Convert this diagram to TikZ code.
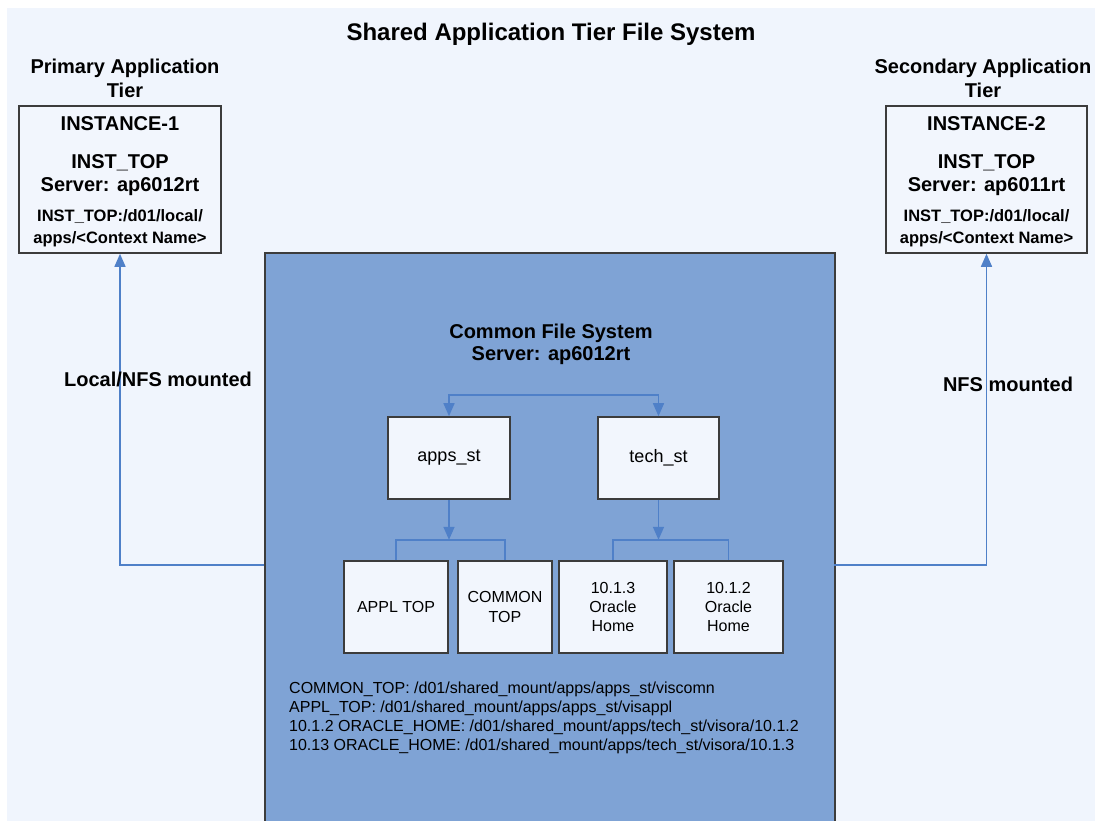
\documentclass[tikz,border=0pt]{standalone}
\usepackage{fontspec}
\setmainfont{Liberation Sans}
\usepackage{tikz}
\usetikzlibrary{arrows.meta,positioning}
\definecolor{pagebg}{HTML}{F0F5FD}
\definecolor{cfsblue}{HTML}{7FA3D5}
\definecolor{boxfill}{HTML}{F2F6FD}
\definecolor{linkblue}{HTML}{4F80C8}
\definecolor{edgegrey}{HTML}{3C3C3C}
\tikzset{
  tierbox/.style={draw=edgegrey, line width=1.6pt, fill=boxfill, inner sep=0pt},
  cfsbox/.style={draw=edgegrey, line width=2pt, fill=cfsblue, inner sep=0pt, anchor=north west},
  dirbox/.style={draw=edgegrey, line width=1.6pt, fill=boxfill, inner sep=0pt, align=center},
  link/.style={draw=linkblue, line width=1.5pt},
  tip/.style={-{Triangle[width=11pt,length=13pt]}},
  headtxt/.style={font=\bfseries\fontsize{20}{24}\selectfont, align=center, inner sep=0pt}
}
\begin{document}
\begin{tikzpicture}[x=1pt,y=-1pt]
\useasboundingbox (0,0) rectangle (1095,821);
% page
\fill[white] (0,0) rectangle (1095,821);
\fill[pagebg] (7,8) rectangle (1095,821);
\node[font=\bfseries\fontsize{24}{28}\selectfont, inner sep=0pt] (title) at (551,34) {Shared Application Tier File System};

% tiers
\node[headtxt] (primlbl) at (125,78) {Primary Application\\Tier};
\node[headtxt] (seclbl) at (983,78) {Secondary Application\\Tier};
\node[tierbox, minimum width=202, minimum height=147] (inst1) at (120,179.5) {};
\node[tierbox, minimum width=201, minimum height=147] (inst2) at (986.5,179.5) {};
\foreach \b/\n/\s in {inst1/1/ap6012rt, inst2/2/ap6011rt} {
  \node[headtxt] (\b name) at ([yshift=-18]\b.north) {INSTANCE-\n};
  \node[headtxt, font=\bfseries\fontsize{20}{23}\selectfont] (\b srv) at ([yshift=-70]\b.north) {INST\_TOP\\Server: \s};
  \node[font=\bfseries\fontsize{16.5}{22}\selectfont, align=center, inner sep=0pt] (\b path) at ([yshift=-123]\b.north) {INST\_TOP:/d01/local/\\apps/<Context Name>};
}

% common file system
\node[cfsbox, minimum width=570, minimum height=590] (cfs) at (264,252) {};
\node[headtxt, font=\bfseries\fontsize{20}{22}\selectfont] (cfslbl) at (551,344) {Common File System\\Server: ap6012rt};
\node[dirbox, minimum width=122, minimum height=82, font=\fontsize{18}{20}\selectfont] (apps) at (449,458) {apps\_st};
\node[dirbox, minimum width=121, minimum height=82, font=\fontsize{18}{20}\selectfont] (tech) at (658.5,458) {tech\_st};
\node[dirbox, minimum width=104, minimum height=92, font=\fontsize{16}{19}\selectfont] (appl) at (396,607) {APPL TOP};
\node[dirbox, minimum width=94, minimum height=92, font=\fontsize{16}{20}\selectfont] (common) at (505,607) {COMMON\\TOP};
\node[dirbox, minimum width=108, minimum height=92, font=\fontsize{16}{19}\selectfont] (ohthree) at (613,607) {10.1.3\\Oracle\\Home};
\node[dirbox, minimum width=109, minimum height=92, font=\fontsize{16}{19}\selectfont] (ohtwo) at (728.5,607) {10.1.2\\Oracle\\Home};

% connectors
\coordinate (split) at (551,395);
\draw[link, tip] (split) -| (apps.north);
\draw[link, tip] (split) -| (tech.north);
\draw[link, tip] (apps.south) -- ++(0,40) coordinate (appsfork);
\draw[link] (appl.north) |- (appsfork) -| (common.north);
\draw[link, tip] (tech.south) -- ++(0,40) coordinate (techfork);
\draw[link] (ohthree.north) |- (techfork) -| (ohtwo.north);

% mounts
\coordinate (cfsleft) at (264,565);
\coordinate (cfsright) at (834,565);
\draw[link, tip] (cfsleft) -| (inst1.south);
\draw[link, tip] (cfsright) -| (inst2.south);
\node[headtxt] (localnfs) at (158,379) {Local/NFS mounted};
\node[headtxt] (nfs) at (1008,384) {NFS mounted};

% paths
\node[font=\fontsize{16}{19}\selectfont, align=left, anchor=north west, inner sep=0pt] (paths) at (289,682)
  {COMMON\_TOP: /d01/shared\_mount/apps/apps\_st/viscomn\\
   APPL\_TOP: /d01/shared\_mount/apps/apps\_st/visappl\\
   10.1.2 ORACLE\_HOME: /d01/shared\_mount/apps/tech\_st/visora/10.1.2\\
   10.13 ORACLE\_HOME: /d01/shared\_mount/apps/tech\_st/visora/10.1.3};
\end{tikzpicture}
\end{document}
